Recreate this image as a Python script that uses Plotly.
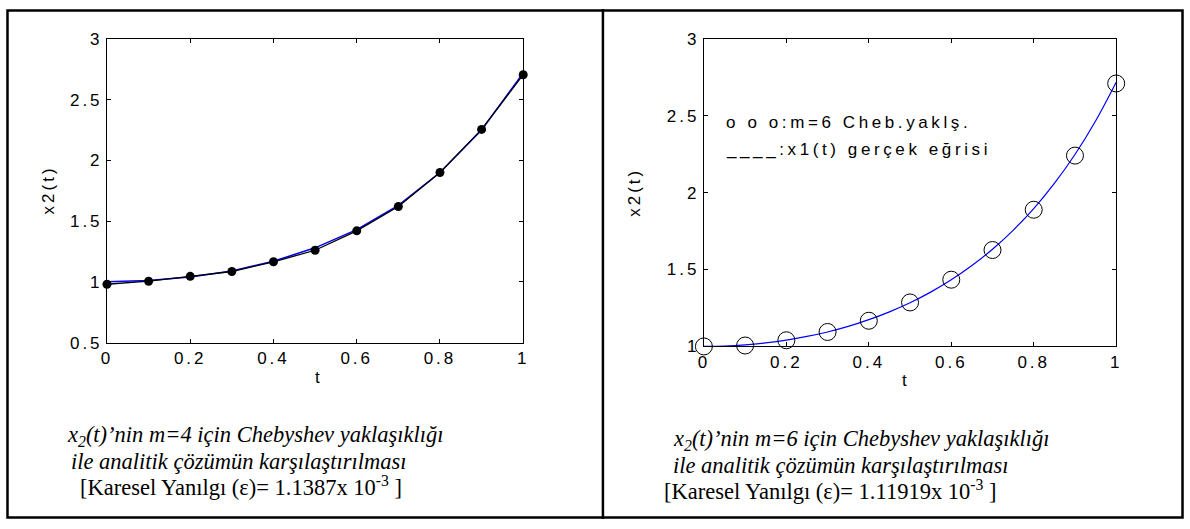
import plotly.graph_objects as go

W, H = 1190, 529

# ---- data ----
t_pts = [0.0, 0.1, 0.2, 0.3, 0.4, 0.5, 0.6, 0.7, 0.8, 0.9, 1.0]
left_cheb = [0.98, 1.005, 1.045, 1.085, 1.165, 1.26, 1.42, 1.62, 1.90, 2.255, 2.705]
left_exact = [1.0, 1.01, 1.04, 1.09, 1.17, 1.28, 1.43, 1.63, 1.90, 2.25, 2.72]
right_cheb = [1.0, 1.006, 1.04, 1.094, 1.167, 1.286, 1.434, 1.627, 1.889, 2.241, 2.71]
t_fine = [0.0, 0.05, 0.1, 0.15, 0.2, 0.25, 0.3, 0.35, 0.4, 0.45, 0.5,
          0.55, 0.6, 0.65, 0.7, 0.75, 0.8, 0.85, 0.9, 0.95, 1.0]
right_exact = [1.0, 1.0025, 1.01, 1.023, 1.041, 1.065, 1.094, 1.13, 1.174, 1.225, 1.284,
               1.353, 1.433, 1.526, 1.632, 1.755, 1.896, 2.06, 2.248, 2.466, 2.718]

x_ticks = [0, 0.2, 0.4, 0.6, 0.8, 1]
x_tick_labels = ["0", "0.2", "0.4", "0.6", "0.8", "1"]
y_ticks_left = [0.5, 1, 1.5, 2, 2.5, 3]
y_tick_labels_left = ["0.5", "1", "1.5", "2", "2.5", "3"]
y_ticks_right = [1, 1.5, 2, 2.5, 3]
y_tick_labels_right = ["1", "1.5", "2", "2.5", "3"]

legend_lines = ["o o o:m=6 Cheb.yaklş.", "____:x1(t) gerçek eğrisi"]
cap_left = ["<i>x<sub>2</sub>(t)’nin m=4 için Chebyshev yaklaşıklığı</i>",
            "<i>ile analitik çözümün karşılaştırılması</i>",
            "[Karesel Yanılgı (ε)= 1.1387x 10<sup>-3</sup> ]"]
cap_right = ["<i>x<sub>2</sub>(t)’nin m=6 için Chebyshev yaklaşıklığı</i>",
             "<i>ile analitik çözümün karşılaştırılması</i>",
             "[Karesel Yanılgı (ε)= 1.11919x 10<sup>-3</sup> ]"]

LS = 3  # letter spacing px


def sp(s, ls=LS):
    return f'<span style="letter-spacing:{ls}px">{s}</span>'


SANS = "Liberation Sans, Arial, sans-serif"
SERIF = "Liberation Serif, Times New Roman, serif"

fig = go.Figure()

# left panel
fig.add_trace(go.Scatter(x=t_pts, y=left_exact, mode="lines",
                         line=dict(color="#0000ff", width=1.5),
                         xaxis="x", yaxis="y", showlegend=False))
fig.add_trace(go.Scatter(x=t_pts, y=left_cheb, mode="lines+markers",
                         line=dict(color="black", width=1.3),
                         marker=dict(color="black", size=9),
                         cliponaxis=False,
                         xaxis="x", yaxis="y", showlegend=False))
# right panel
fig.add_trace(go.Scatter(x=t_fine, y=right_exact, mode="lines",
                         line=dict(color="#0000ff", width=1.2, shape="spline"),
                         xaxis="x2", yaxis="y2", showlegend=False))
fig.add_trace(go.Scatter(x=t_pts, y=right_cheb, mode="markers",
                         marker=dict(symbol="circle-open", color="black", size=17,
                                     line=dict(width=1)),
                         cliponaxis=False,
                         xaxis="x2", yaxis="y2", showlegend=False))

axis_common = dict(showline=True, linecolor="black", linewidth=1, mirror="ticks",
                   ticks="inside", ticklen=4, tickcolor="black", showgrid=False,
                   zeroline=False, tickfont=dict(family=SANS, size=17, color="black"))

fig.update_layout(
    width=W, height=H, margin=dict(l=0, r=0, t=0, b=0),
    paper_bgcolor="white", plot_bgcolor="white",
    xaxis=dict(domain=[102 / W, 522.5 / W], range=[0, 1], anchor="y",
               tickvals=x_ticks, ticktext=[sp(s) for s in x_tick_labels], **axis_common),
    yaxis=dict(domain=[1 - 346 / H, 1 - 31 / H], range=[0.5, 3], anchor="x",
               tickvals=y_ticks_left, ticktext=[sp(s) for s in y_tick_labels_left], **axis_common),
    xaxis2=dict(domain=[705 / W, 1121.5 / W], range=[0, 1], anchor="y2",
                tickvals=x_ticks, ticktext=[sp(s) for s in x_tick_labels], **axis_common),
    yaxis2=dict(domain=[1 - 350 / H, 1 - 31 / H], range=[1, 3], anchor="x2",
                tickvals=y_ticks_right, ticktext=[sp(s) for s in y_tick_labels_right], **axis_common),
)

ann = []
# axis titles
for (x, y) in [(310, 394), (912, 397)]:
    ann.append(dict(x=x / W, y=1 - y / H, xref="paper", yref="paper", text="t",
                    showarrow=False, font=dict(family=SANS, size=17, color="black")))
for (x, y) in [(31, 188), (635, 190)]:
    ann.append(dict(x=x / W, y=1 - y / H, xref="paper", yref="paper", text=sp("x2(t)"),
                    textangle=-90, showarrow=False,
                    font=dict(family=SANS, size=17, color="black")))
# legend text in right panel
for i, line in enumerate(legend_lines):
    ann.append(dict(x=725 / W, y=1 - (118 + 28 * i) / H, xref="paper", yref="paper",
                    text=sp(line, 3.6), xanchor="left", yanchor="middle", showarrow=False,
                    font=dict(family=SANS, size=17, color="black")))
# captions
for txt, (x, y) in zip(cap_left, [(60, 443), (64, 469), (73, 495)]):
    ann.append(dict(x=x / W, y=1 - y / H, xref="paper", yref="paper", text=txt,
                    xanchor="left", yanchor="middle", showarrow=False,
                    font=dict(family=SERIF, size=22.5, color="black")))
for txt, (x, y) in zip(cap_right, [(672, 447), (672, 473), (663, 499)]):
    ann.append(dict(x=x / W, y=1 - y / H, xref="paper", yref="paper", text=txt,
                    xanchor="left", yanchor="middle", showarrow=False,
                    font=dict(family=SERIF, size=22.5, color="black")))
fig.update_layout(annotations=ann)

# frame
fig.add_shape(type="rect", xref="paper", yref="paper", x0=1.5 / W, x1=1 - 1.5 / W,
              y0=1.5 / H, y1=1 - 1.5 / H, line=dict(color="black", width=2.5))
fig.add_shape(type="line", xref="paper", yref="paper", x0=603 / W, x1=603 / W,
              y0=0, y1=1, line=dict(color="black", width=2.5))

fig.write_html("out.html", config={"displayModeBar": False},
               post_script="document.body.style.margin='0';document.body.style.overflow='hidden';")
